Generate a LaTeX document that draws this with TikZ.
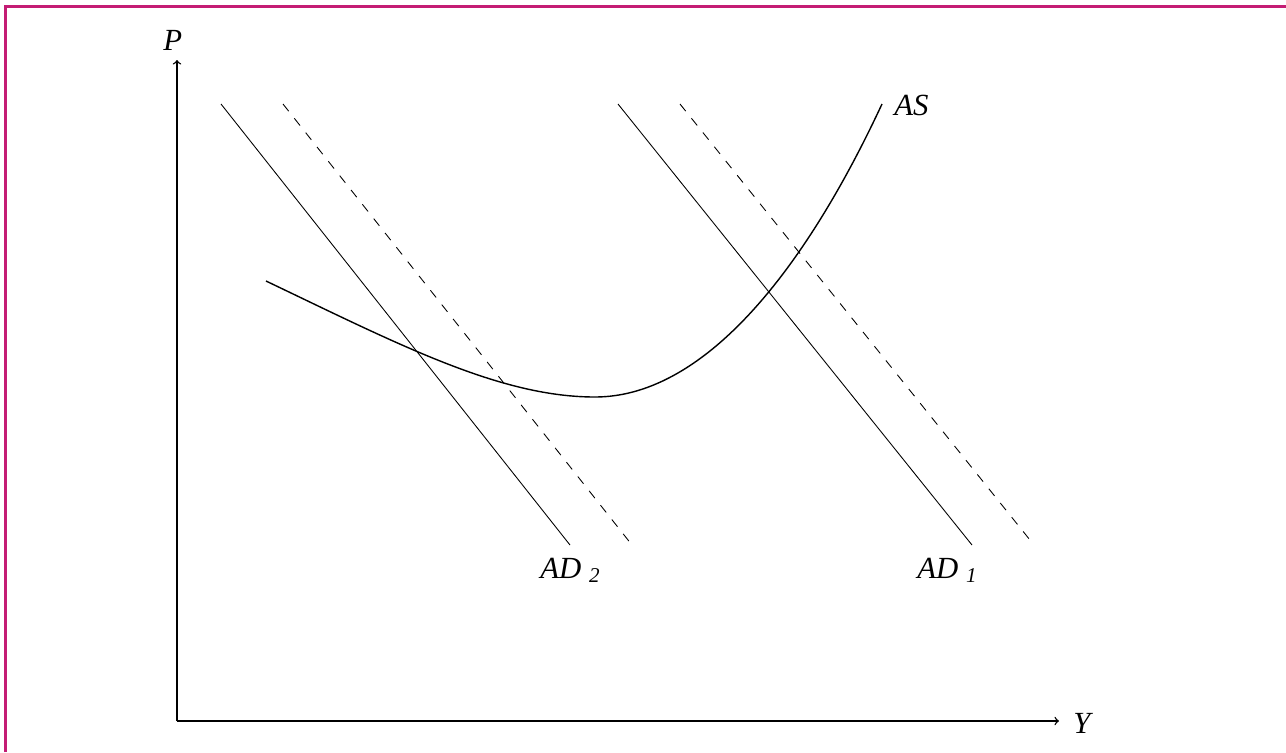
\documentclass[tikz,border=0pt]{standalone}
\usepackage{fontspec}
\setmainfont{Liberation Serif}
\usetikzlibrary{positioning}
\definecolor{framepink}{RGB}{196,28,116}
\newcommand{\adsub}[1]{AD\hspace{4.5pt}\raisebox{-2.8pt}{\fontsize{12}{14}\selectfont #1}}

\begin{document}
\begin{tikzpicture}[x=0.02cm, y=-0.02cm,
    axis/.style={->, line width=0.8pt},
    adline/.style={line width=0.5pt},
    shifted/.style={line width=0.5pt, dash pattern=on 5.2pt off 5.2pt},
    curve/.style={line width=0.8pt},
    lbl/.style={inner sep=0pt, anchor=base west, font=\fontsize{17.5}{20}\selectfont\itshape}
]
\useasboundingbox (0,0) rectangle (1286,752);

% Frame
\draw[framepink, line width=1.2pt] (5.5,752) -- (5.5,6.5) -- (1286,6.5);

% Axes
\coordinate (o) at (177,721);
\coordinate (ptop) at (177,60);
\coordinate (yend) at (1059,721);
\draw[axis] (o) -- (ptop);
\draw[axis] (o) -- (yend);
\node[lbl] (p) at (163,50) {P};
\node[lbl] (y) at (1073,733) {Y};

% Aggregate demand
\draw[adline] (221,104) -- (570,545);
\draw[shifted] (283,104) -- (632,545);
\draw[adline] (618,104) -- (972,545);
\draw[shifted] (680,104) -- (1034,545);
\node[lbl] (ad2) at (540,578) {\adsub{2}};
\node[lbl] (ad1) at (917,578) {\adsub{1}};

% Aggregate supply
\draw[curve] (266,281) .. controls (400,345) and (500,397) .. (595,397)
    .. controls (700,397) and (800,280) .. (882,104);
\node[lbl] (as) at (894,115) {AS};

\end{tikzpicture}
\end{document}
